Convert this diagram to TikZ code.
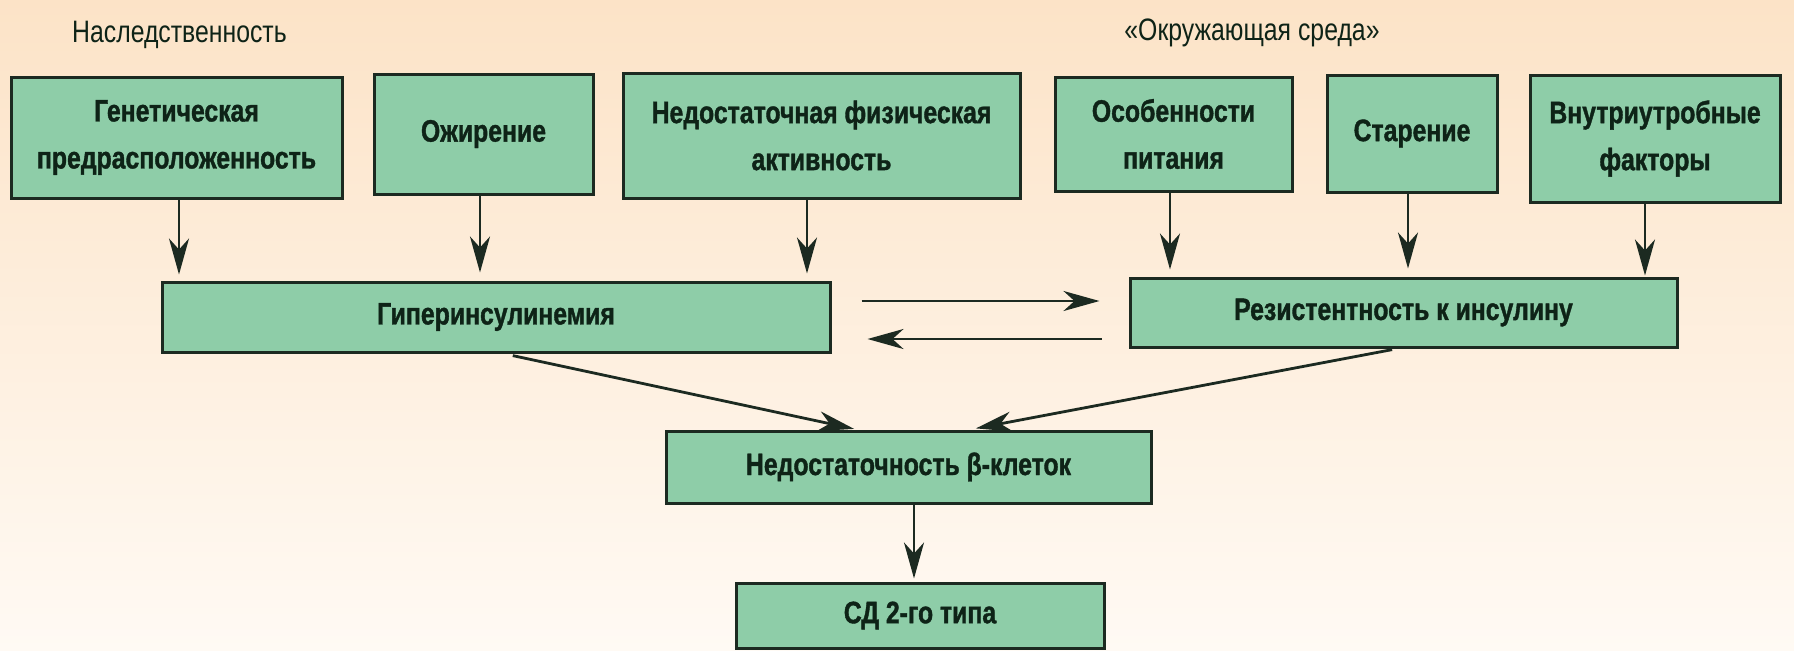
\documentclass[tikz,border=0pt]{standalone}
\usepackage{fontspec}
\setmainfont{Liberation Sans}[FakeStretch=0.8, BoldFeatures={FakeBold=1.2}]
\usetikzlibrary{arrows.meta}
\definecolor{bgtop}{HTML}{FCE3C7}
\definecolor{bgbot}{HTML}{FFFAF4}
\definecolor{boxfill}{HTML}{8ECDA8}
\definecolor{boxline}{HTML}{1C2A21}
\definecolor{txt}{HTML}{0E2317}
\tikzset{
  box/.style={draw=boxline, line width=1.5pt, fill=boxfill, text=txt, align=center,
    inner sep=0pt, font=\bfseries\fontsize{15.5}{23.5}\selectfont},
  head/.style={text=txt, font=\fontsize{15.5}{18}\selectfont, inner sep=0pt},
  arr/.style={draw=boxline, line width=1.4pt, -{Stealth[length=18pt, width=10pt, inset=5.5pt]}}
}
\begin{document}
\begin{tikzpicture}[x=0.5pt, y=-0.5pt]
\shade[top color=bgtop, bottom color=bgbot] (0,0) rectangle (1794,650);
\useasboundingbox (0,0) rectangle (1794,650);

\node[head] (h1) at (179.5,35) {Наследственность};
\node[head] (h2) at (1252,33) {«Окружающая среда»};

\node[box, minimum width=165.5pt, minimum height=60.5pt] (b1) at (176.5,137.5) {Генетическая\\предрасположенность};
\node[box, minimum width=109.5pt, minimum height=60pt] (b2) at (483.5,134) {Ожирение};
\node[box, minimum width=198.5pt, minimum height=62.5pt] (b3) at (821.5,135.5) {Недостаточная физическая\\активность};
\node[box, minimum width=118.5pt, minimum height=57pt] (b4) at (1173.5,134) {Особенности\\питания};
\node[box, minimum width=85pt, minimum height=58.5pt] (b5) at (1412,133.5) {Старение};
\node[box, minimum width=125pt, minimum height=63.5pt] (b6) at (1655,138.5) {Внутриутробные\\факторы};

\node[box, minimum width=334pt, minimum height=35pt] (hyp) at (496,317) {Гиперинсулинемия};
\node[box, minimum width=273.5pt, minimum height=34.5pt] (res) at (1403.5,312.5) {Резистентность к инсулину};
\node[box, minimum width=242.5pt, minimum height=36pt] (beta) at (908.5,467) {Недостаточность β-клеток};
\node[box, minimum width=184pt, minimum height=32.5pt] (sd) at (920,615.5) {СД 2-го типа};

\draw[arr, shorten >=3pt] (b1.south -| 179,0) -- (hyp.north -| 179,0);
\draw[arr, shorten >=4pt] (b2.south -| 480,0) -- (hyp.north -| 480,0);
\draw[arr, shorten >=3.5pt] (b3.south -| 807,0) -- (hyp.north -| 807,0);
\draw[arr, shorten >=3.5pt] (b4.south -| 1170,0) -- (res.north -| 1170,0);
\draw[arr, shorten >=4pt] (b5.south -| 1408,0) -- (res.north -| 1408,0);
\draw[arr, shorten >=0.5pt] (b6.south -| 1645,0) -- (res.north -| 1645,0);

\draw[arr, shorten <=15pt, shorten >=14.5pt] (hyp.east |- 0,301) -- (res.west |- 0,301);
\draw[arr, shorten <=13.5pt, shorten >=18pt] (res.west |- 0,339) -- (hyp.east |- 0,339);

\draw[arr, shorten <=5pt, shorten >=1.5pt] (hyp.south -| 503,0) -- (beta.north -| 857,0);
\draw[arr, shorten <=3pt, shorten >=3pt] (res.south -| 1398,0) -- (beta.north -| 970,0);

\draw[arr, shorten >=1.5pt] (beta.south -| 914,0) -- (sd.north -| 914,0);
\end{tikzpicture}
\end{document}
